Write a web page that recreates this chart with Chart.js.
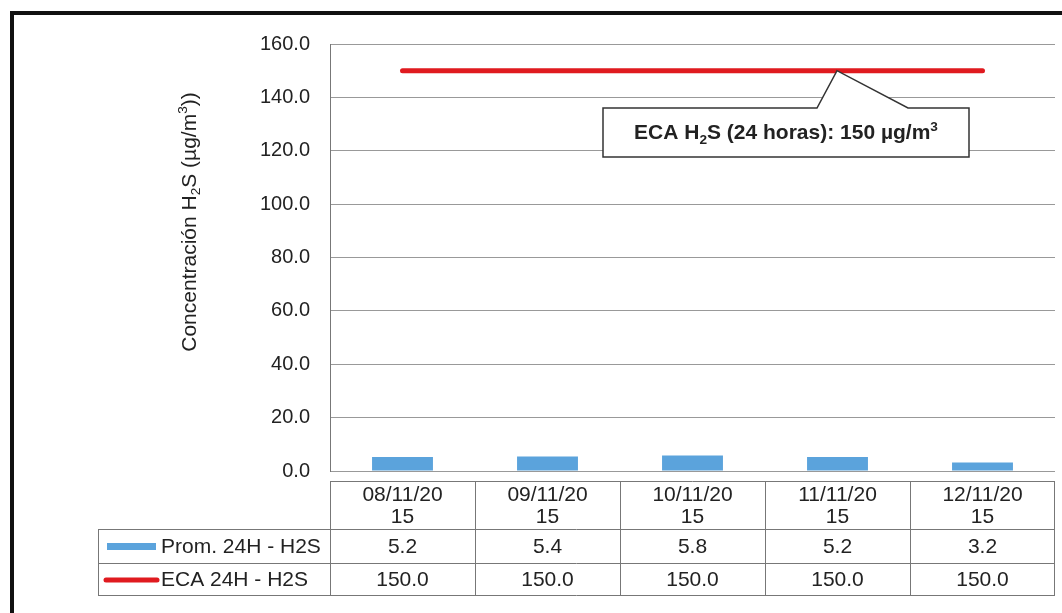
<!DOCTYPE html>
<html>
<head>
<meta charset="utf-8">
<script src="https://cdn.jsdelivr.net/npm/chart.js@4"></script>
<style>
  body { margin: 0; background: #fff; }
  #c { display: block; }
</style>
</head>
<body>
<canvas id="c" width="1062" height="613"></canvas>
<script>
var categories = ['08/11/2015', '09/11/2015', '10/11/2015', '11/11/2015', '12/11/2015']
var promValues = [5.2, 5.4, 5.8, 5.2, 3.2]
var ecaValues = [150, 150, 150, 150, 150]
var seriesNames = ['Prom. 24H - H2S', 'ECA 24H - H2S']
var barColor = '#5ba3dc'
var lineColor = '#e01a1f'
var FONT = '"Liberation Sans", Arial, sans-serif'

// draws text made of pieces, some of them sub/superscript
function richText(ctx, parts, x, y, size, weight, align) {
    var total = 0
    parts.forEach(function (p) {
        ctx.font = weight + ' ' + (p.s ? size * 0.65 : size) + 'px ' + FONT
        p.w = ctx.measureText(p.t).width
        total += p.w
    })
    var cx = align == 'center' ? x - total / 2 : x
    ctx.textAlign = 'left'
    ctx.textBaseline = 'middle'
    parts.forEach(function (p) {
        ctx.font = weight + ' ' + (p.s ? size * 0.65 : size) + 'px ' + FONT
        var dy = p.s == 'sub' ? size * 0.3 : (p.s == 'sup' ? -size * 0.3 : 0)
        ctx.fillText(p.t, cx, y + dy)
        cx += p.w
    })
}

var extras = {
    id: 'extras',
    beforeDraw: function (chart) {
        var ctx = chart.ctx
        ctx.save()
        ctx.fillStyle = '#fff'
        ctx.fillRect(0, 0, chart.width, chart.height)
        ctx.strokeStyle = '#111'
        ctx.lineWidth = 4
        ctx.beginPath()
        ctx.moveTo(12, chart.height)
        ctx.lineTo(12, 13)
        ctx.lineTo(chart.width, 13)
        ctx.stroke()
        ctx.restore()
    },
    afterDatasetsDraw: function (chart) {
        var ctx = chart.ctx
        var y = chart.scales.y
        var tipY = y.getPixelForValue(ecaValues[2])
        ctx.save()
        // callout box
        var L = 603, T = 108, R = 969, B = 157
        ctx.beginPath()
        ctx.moveTo(L, T)
        ctx.lineTo(817, T)
        ctx.lineTo(837, tipY)
        ctx.lineTo(908, T)
        ctx.lineTo(R, T)
        ctx.lineTo(R, B)
        ctx.lineTo(L, B)
        ctx.closePath()
        ctx.fillStyle = '#fff'
        ctx.fill()
        ctx.strokeStyle = '#333'
        ctx.lineWidth = 1.5
        ctx.stroke()
        ctx.fillStyle = '#222'
        richText(ctx, [{ t: 'ECA H' }, { t: '2', s: 'sub' }, { t: 'S (24 horas): 150 µg/m' }, { t: '3', s: 'sup' }],
            (L + R) / 2, (T + B) / 2 + 1, 21, 'bold', 'center')
        ctx.restore()
    },
    afterDraw: function (chart) {
        var ctx = chart.ctx
        var x = chart.scales.x
        var area = chart.chartArea
        var half = (x.getPixelForValue(1) - x.getPixelForValue(0)) / 2
        var rows = [481, 529, 563, 595]
        var legendLeft = 98
        ctx.save()
        // y axis title
        ctx.translate(190, 222)
        ctx.rotate(-Math.PI / 2)
        ctx.fillStyle = '#222'
        richText(ctx, [{ t: 'Concentración H' }, { t: '2', s: 'sub' }, { t: 'S (µg/m' }, { t: '3', s: 'sup' }, { t: '))' }],
            0, 0, 21, 'normal', 'center')
        ctx.setTransform(1, 0, 0, 1, 0, 0)

        // data table grid
        ctx.strokeStyle = '#777'
        ctx.lineWidth = 1
        ctx.beginPath()
        ctx.moveTo(area.left, rows[0] + 0.5)
        ctx.lineTo(area.right, rows[0] + 0.5)
        for (var r = 1; r < rows.length; r++) {
            ctx.moveTo(legendLeft, rows[r] + 0.5)
            ctx.lineTo(area.right, rows[r] + 0.5)
        }
        ctx.moveTo(legendLeft + 0.5, rows[1])
        ctx.lineTo(legendLeft + 0.5, rows[3])
        for (var i = 0; i < categories.length; i++) {
            var xl = Math.round(x.getPixelForValue(i) - half) + 0.5
            ctx.moveTo(xl, rows[0])
            ctx.lineTo(xl, rows[3])
        }
        ctx.moveTo(Math.round(area.right) - 0.5, rows[0])
        ctx.lineTo(Math.round(area.right) - 0.5, rows[3])
        ctx.stroke()

        ctx.fillStyle = '#222'
        ctx.font = '21px ' + FONT
        ctx.textAlign = 'center'
        ctx.textBaseline = 'middle'
        categories.forEach(function (c, i) {
            var cx = x.getPixelForValue(i)
            ctx.fillText(c.slice(0, 8), cx, 495)
            ctx.fillText(c.slice(8), cx, 517)
            ctx.fillText(promValues[i].toFixed(1), cx, 547)
            ctx.fillText(ecaValues[i].toFixed(1), cx, 580)
        })
        // legend keys
        ctx.fillStyle = barColor
        ctx.fillRect(107, 543, 49, 7)
        ctx.strokeStyle = lineColor
        ctx.lineWidth = 5
        ctx.lineCap = 'round'
        ctx.beginPath()
        ctx.moveTo(106, 580)
        ctx.lineTo(157, 580)
        ctx.stroke()
        ctx.fillStyle = '#222'
        ctx.textAlign = 'left'
        ctx.fillText(seriesNames[0], 161, 547)
        ctx.fillText(seriesNames[1], 161, 580)
        ctx.restore()
    }
}

var ctx = document.getElementById('c').getContext('2d')
var chart = new Chart(ctx, {
    data: {
        labels: categories,
        datasets: [{
            type: 'line',
            label: seriesNames[1],
            data: ecaValues,
            borderColor: lineColor,
            borderWidth: 5,
            borderCapStyle: 'round',
            pointRadius: 0,
            order: 0
        }, {
            type: 'bar',
            label: seriesNames[0],
            data: promValues,
            backgroundColor: barColor,
            categoryPercentage: 1,
            barPercentage: 0.42,
            order: 1
        }]
    },
    options: {
        responsive: false,
        animation: false,
        layout: { padding: { left: 200, right: 7, top: 44, bottom: 142 } },
        plugins: { legend: { display: false }, tooltip: { enabled: false } },
        scales: {
            x: { display: false },
            y: {
                min: 0,
                max: 160,
                afterFit: function (s) { s.width = 130 },
                ticks: {
                    stepSize: 20,
                    padding: 20,
                    color: '#222',
                    font: { family: FONT, size: 20 },
                    callback: function (v) { return v.toFixed(1) }
                },
                grid: { color: '#999', lineWidth: 1, drawTicks: false },
                border: { color: '#777', width: 1 }
            }
        }
    },
    plugins: [extras]
})
</script>
</body>
</html>
